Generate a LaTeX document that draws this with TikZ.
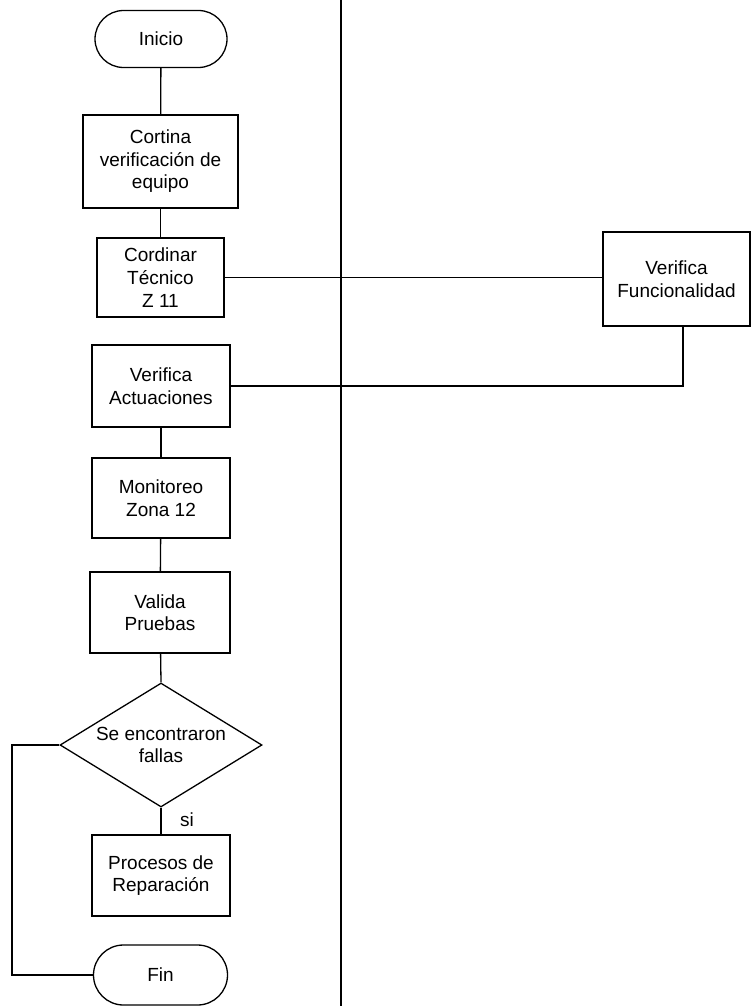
\documentclass[tikz,border=0pt]{standalone}
\usepackage{fontspec}
\setmainfont{Liberation Sans}
\usetikzlibrary{shapes.misc,shapes.geometric}

\begin{document}
\begin{tikzpicture}[x=1pt,y=1pt,
  every node/.style={font=\fontsize{19}{22.5}\selectfont, align=center, inner sep=0pt},
  stepbox/.style={draw, line width=1.3pt, rectangle},
  term/.style={draw, line width=1.3pt, rounded rectangle},
  decide/.style={draw, line width=1.3pt, diamond},
  link/.style={draw, line width=1.3pt}]

  % page frame
  \useasboundingbox (0,0) rectangle (751,-1006);

  % swimlane divider
  \coordinate (lanetop) at (341,0);
  \coordinate (lanebot) at (341,-1006);
  \draw[line width=1.6pt] (lanetop) -- (lanebot);

  % left lane
  \node[term, minimum width=132, minimum height=57] (inicio) at (161,-39) {Inicio};
  \node[stepbox, minimum width=155, minimum height=93] (cortina) at (160.5,-161.5)
    {Cortina\\verificación de\\equipo};
  \node[stepbox, minimum width=127, minimum height=79,
        font=\fontsize{19}{23}\selectfont] (coord) at (160.5,-277.5)
    {Cordinar\\Técnico\\Z 11};
  \node[stepbox, minimum width=138, minimum height=82] (actu) at (161,-386)
    {Verifica\\Actuaciones};
  \node[stepbox, minimum width=138, minimum height=80] (moni) at (161,-498)
    {Monitoreo\\Zona 12};
  \node[stepbox, minimum width=140, minimum height=81] (valida) at (160,-612.5)
    {Valida\\Pruebas};
  % decision: the diamond outline, with its question set on top
  \node[decide, minimum width=202, minimum height=124] (dec) at (161,-745) {};
  \node (decq) at (dec.center) {Se encontraron\\fallas};
  \node (si) at (187,-820) {si};
  \node[stepbox, minimum width=138, minimum height=81] (proc) at (161,-875.5)
    {Procesos de\\Reparación};
  \node[term, minimum width=134, minimum height=60] (fin) at (160.5,-975) {Fin};

  % right lane
  \node[stepbox, minimum width=147, minimum height=94] (func) at (676.5,-279)
    {Verifica\\Funcionalidad};

  % connectors
  \draw[link] (inicio) -- (cortina);
  \draw[link] (cortina) -- (coord);
  \draw[link] (coord.east) -- (coord.east -| func.west);
  \coordinate (funcout) at (683,-326);
  \draw[link] (funcout) -- (funcout |- actu.east) -- (actu.east);
  \draw[link] (actu) -- (moni);
  \draw[link] (moni) -- (valida);
  \draw[link] (valida) -- (dec.north);
  \draw[link] (dec.south) -- (proc);
  \coordinate (loopx) at (12,0);
  \draw[link] (dec.west) -- (dec.west -| loopx) -- (loopx |- fin.west) -- (fin.west);
\end{tikzpicture}
\end{document}
